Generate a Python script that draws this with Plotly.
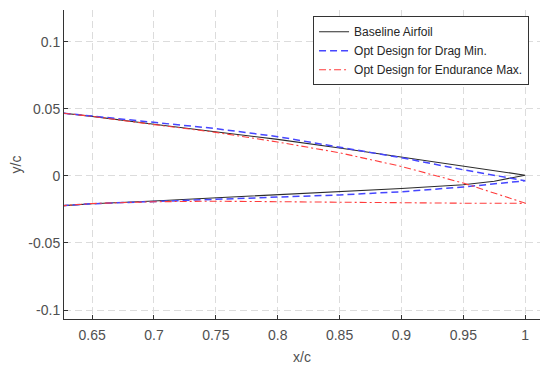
import plotly.graph_objects as go

# Baseline airfoil (upper / lower surfaces near trailing edge)
base_x = [0.627, 0.65, 0.70, 0.75, 0.80, 0.85, 0.90, 0.95, 0.975, 1.0]
base_upper = [0.0467, 0.0443, 0.0385, 0.0330, 0.0272, 0.0208, 0.0142, 0.0074, 0.0040, 0.0005]
base_lower = [-0.0222, -0.0208, -0.0187, -0.0163, -0.0140, -0.0118, -0.0094, -0.0066, -0.0040, 0.0005]

# Opt design for drag minimisation
drag_x = [0.627, 0.65, 0.70, 0.75, 0.80, 0.85, 0.90, 0.95, 1.0]
drag_upper = [0.0467, 0.0446, 0.0395, 0.0352, 0.0292, 0.0212, 0.0135, 0.0045, -0.0037]
drag_lower = [-0.0222, -0.0208, -0.0190, -0.0175, -0.0158, -0.0142, -0.0119, -0.0083, -0.0037]

# Opt design for endurance maximisation
endu_x = [0.627, 0.65, 0.70, 0.75, 0.80, 0.85, 0.90, 0.95, 1.0]
endu_upper = [0.0467, 0.0443, 0.0382, 0.0324, 0.0252, 0.0172, 0.0070, -0.0054, -0.0203]
endu_lower = [-0.0222, -0.0206, -0.0193, -0.0189, -0.0190, -0.0196, -0.0201, -0.0204, -0.0205]

x_ticks = [0.65, 0.7, 0.75, 0.8, 0.85, 0.9, 0.95, 1]
x_tick_labels = ["0.65", "0.7", "0.75", "0.8", "0.85", "0.9", "0.95", "1"]
y_ticks = [-0.1, -0.05, 0, 0.05, 0.1]
y_tick_labels = ["-0.1", "-0.05", "0", "0.05", "0.1"]


def closed(xs, up, lo):
    # upper surface from left to TE, then lower surface back from TE to left
    return xs + xs[::-1], up + lo[::-1]


FONT = "Liberation Sans, Arial, sans-serif"

fig = go.Figure()
bx, by = closed(base_x, base_upper, base_lower)
dx, dy = closed(drag_x, drag_upper, drag_lower)
ex, ey = closed(endu_x, endu_upper, endu_lower)

fig.add_trace(go.Scatter(x=bx, y=by, mode="lines", name="Baseline Airfoil",
                         line=dict(color="#2b2b2b", width=1.1)))
fig.add_trace(go.Scatter(x=dx, y=dy, mode="lines", name="Opt Design for Drag Min.",
                         line=dict(color="#4646ff", width=1.5, dash="7px,4px")))
fig.add_trace(go.Scatter(x=ex, y=ey, mode="lines", name="Opt Design for Endurance Max.",
                         line=dict(color="#ff3c3c", width=1.1, dash="7px,3px,2px,3px")))

axis_common = dict(
    showline=True, linecolor="#333333", linewidth=1,
    ticks="inside", ticklen=4, tickcolor="#333333",
    showgrid=True, gridcolor="#dcdcdc", griddash="7px,4px", gridwidth=1,
    zeroline=False, mirror=False, automargin=False,
    tickfont=dict(family=FONT, size=14, color="#505050"),
    title_font=dict(family=FONT, size=14, color="#505050"),
)

fig.update_xaxes(range=[0.6273, 1.012], tickvals=x_ticks, ticktext=x_tick_labels,
                 ticklabelstandoff=3,
                 title_text="x/c", title_standoff=10, **axis_common)
fig.update_yaxes(range=[-0.1067, 0.1236], tickvals=y_ticks, ticktext=y_tick_labels,
                 title_text="y/c", title_standoff=5, **axis_common)

# page has an 8px body margin; margins compensate so the plot area sits where the reference's does
fig.update_layout(
    width=550, height=368,
    margin=dict(l=56, r=18, t=2, b=57),
    plot_bgcolor="white", paper_bgcolor="white",
    font=dict(family=FONT),
    legend=dict(
        x=0.977, y=0.98, xanchor="right", yanchor="top",
        bgcolor="white", bordercolor="#333333", borderwidth=1,
        font=dict(family=FONT, size=12, color="#262626"),
        tracegroupgap=0, itemwidth=30,
    ),
)

fig.write_html("out.html")
